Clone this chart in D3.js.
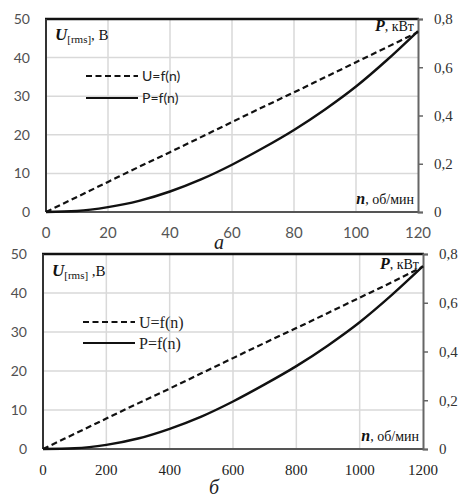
<!DOCTYPE html>
<html lang="ru">
<head>
<meta charset="UTF-8">
<title>U=f(n), P=f(n)</title>
<script src="https://d3js.org/d3.v7.min.js"></script>
<style>
    body { margin: 0; background: #fff; }
    svg { display: block; }
</style>
</head>
<body>
<div id="chart"></div>
<script>
// данные: верхний график (а), n 0..120
const nTop = [0, 10, 20, 30, 40, 50, 60, 70, 80, 90, 100, 110, 120];
const uTop = [0, 3.9, 7.8, 11.7, 15.5, 19.4, 23.3, 27.2, 31.0, 34.9, 38.8, 42.7, 46.6];
const pTop = [0, 0.004, 0.02, 0.046, 0.085, 0.135, 0.196, 0.265, 0.34, 0.425, 0.52, 0.63, 0.75];

// нижний график (б), n 0..1200
const nBottom = [0, 100, 200, 300, 400, 500, 600, 700, 800, 900, 1000, 1100, 1200];
const uBottom = [0, 3.9, 7.8, 11.7, 15.5, 19.4, 23.3, 27.2, 31.0, 34.9, 38.8, 42.7, 46.8];
const pBottom = [0, 0.003, 0.017, 0.043, 0.083, 0.133, 0.195, 0.265, 0.34, 0.425, 0.52, 0.63, 0.75];

// оси
const uTicks = [0, 10, 20, 30, 40, 50];
const pTicks = [0, 0.2, 0.4, 0.6, 0.8];
const nTicksTop = [0, 20, 40, 60, 80, 100, 120];
const nTicksBottom = [0, 200, 400, 600, 800, 1000, 1200];
const legendLabels = ["U=f(n)", "P=f(n)"];

const W = 463, H = 497;
const svg = d3.select("#chart").append("svg")
    .attr("width", W).attr("height", H);

const serif = "'Liberation Serif', 'Times New Roman', 'DejaVu Serif', serif";
const sans = "Lato, 'Open Sans', sans-serif";

function panel(o) {
    const g = svg.append("g");
    const x = d3.scaleLinear().domain([0, o.nMax]).range([o.left, o.right]);
    const yU = d3.scaleLinear().domain([0, 50]).range([o.bottom, o.top]);
    const yP = d3.scaleLinear().domain([0, 0.8]).range([o.bottom, o.top]);

    // сетка
    g.append("g").selectAll("line").data(o.nTicks.slice(1, -1)).join("line")
        .attr("x1", d => x(d)).attr("x2", d => x(d))
        .attr("y1", o.top).attr("y2", o.bottom)
        .attr("stroke", "#d9d9d9").attr("stroke-width", 1.5);
    g.append("g").selectAll("line").data(uTicks.slice(1, -1)).join("line")
        .attr("x1", o.left).attr("x2", o.right)
        .attr("y1", d => yU(d)).attr("y2", d => yU(d))
        .attr("stroke", "#d9d9d9").attr("stroke-width", 1.5);

    // рамка
    g.append("line").attr("x1", o.left - 1).attr("x2", o.right + 1)
        .attr("y1", o.top).attr("y2", o.top)
        .attr("stroke", "#111").attr("stroke-width", 2.5);
    g.append("line").attr("x1", o.left).attr("x2", o.left)
        .attr("y1", o.top).attr("y2", o.bottom)
        .attr("stroke", "#333").attr("stroke-width", 2);
    g.append("line").attr("x1", o.left).attr("x2", o.right)
        .attr("y1", o.bottom).attr("y2", o.bottom)
        .attr("stroke", "#555").attr("stroke-width", 2);

    // правая ось
    const axR = g.append("g").attr("transform", `translate(${o.right},0)`)
        .call(d3.axisRight(yP).tickValues(pTicks).tickSize(5).tickFormat(() => ""));
    axR.select(".domain").attr("stroke", "#666").attr("stroke-width", 2);
    axR.selectAll(".tick line").attr("stroke", "#666").attr("stroke-width", 1.5);

    // подписи делений
    g.append("g").selectAll("text").data(uTicks).join("text")
        .attr("x", o.left - 16).attr("y", d => yU(d)).attr("dy", "0.35em")
        .attr("text-anchor", "end")
        .style("font-family", o.leftFont).style("font-size", "14px").style("fill", "#505050")
        .text(d => d);
    g.append("g").selectAll("text").data(pTicks).join("text")
        .attr("x", o.right + 16).attr("y", d => yP(d)).attr("dy", "0.35em")
        .style("font-family", serif).style("font-size", "15px").style("fill", "#333")
        .text(d => d === 0 ? "0" : String(d).replace(".", ","));
    g.append("g").selectAll("text").data(o.nTicks).join("text")
        .attr("x", d => x(d)).attr("y", o.bottom + 26)
        .attr("text-anchor", "middle")
        .style("font-family", o.xFont).style("font-size", "15px").style("fill", o.xColor)
        .text(d => d);

    // линии
    const lineU = d3.line().x((d, i) => x(o.n[i])).y(d => yU(d)).curve(d3.curveMonotoneX);
    const lineP = d3.line().x((d, i) => x(o.n[i])).y(d => yP(d)).curve(d3.curveMonotoneX);
    g.append("path").attr("d", lineU(o.u)).attr("fill", "none")
        .attr("stroke", "#111").attr("stroke-width", 2.2).attr("stroke-dasharray", "6,3.5");
    g.append("path").attr("d", lineP(o.p)).attr("fill", "none")
        .attr("stroke", "#111").attr("stroke-width", 2.4);

    // легенда
    const leg = g.append("g");
    [0, 1].forEach(i => {
        const ly = o.legendY[i];
        leg.append("line").attr("x1", o.left + 40).attr("x2", o.left + 92)
            .attr("y1", ly).attr("y2", ly)
            .attr("stroke", "#111").attr("stroke-width", 2.2)
            .attr("stroke-dasharray", i === 0 ? "6,3.5" : null);
        leg.append("text").attr("x", o.left + 96).attr("y", ly).attr("dy", "0.35em")
            .style("font-family", o.legendFont).style("font-size", o.legendSize).style("fill", "#222")
            .text(legendLabels[i]);
    });

    // подписи осей
    const ut = g.append("text").attr("x", o.left + 9).attr("y", o.top + o.uDy)
        .style("font-family", serif).style("fill", "#111");
    ut.append("tspan").style("font-size", "17px").style("font-weight", "bold").style("font-style", "italic").text("U");
    ut.append("tspan").attr("dy", 3).style("font-size", "11px").text("[rms]");
    ut.append("tspan").attr("dy", -3).style("font-size", "15px").text(o.uSuffix);

    const pt = g.append("text").attr("x", o.right - 4).attr("y", o.top + o.pDy)
        .attr("text-anchor", "end").style("font-family", serif).style("fill", "#111");
    pt.append("tspan").style("font-size", "16px").style("font-weight", "bold").style("font-style", "italic").text("P");
    pt.append("tspan").style("font-size", "14px").text(", кВт");

    const nt = g.append("text").attr("x", o.right - 4).attr("y", o.bottom - 8)
        .attr("text-anchor", "end").style("font-family", serif).style("fill", "#111");
    nt.append("tspan").style("font-size", "16px").style("font-weight", "bold").style("font-style", "italic").text("n");
    nt.append("tspan").style("font-size", "14px").text(", об/мин");

    g.append("text").attr("x", o.captionX).attr("y", o.captionY)
        .attr("text-anchor", "middle")
        .style("font-family", serif).style("font-style", "italic").style("font-size", "20px").style("fill", "#222")
        .text(o.caption);
}

panel({
    left: 46, right: 418, top: 19, bottom: 212,
    nMax: 120, nTicks: nTicksTop, n: nTop, u: uTop, p: pTop,
    leftFont: sans, xFont: sans, xColor: "#555",
    legendFont: sans, legendSize: "14px", legendY: [76, 98],
    uDy: 21, uSuffix: ", В", pDy: 12,
    caption: "а", captionX: 219, captionY: 249
});

panel({
    left: 43, right: 423, top: 254, bottom: 449,
    nMax: 1200, nTicks: nTicksBottom, n: nBottom, u: uBottom, p: pBottom,
    leftFont: sans, xFont: serif, xColor: "#222",
    legendFont: serif, legendSize: "16px", legendY: [322, 343],
    uDy: 22, uSuffix: " ,В", pDy: 15,
    caption: "б", captionX: 214, captionY: 494
});
</script>
</body>
</html>
